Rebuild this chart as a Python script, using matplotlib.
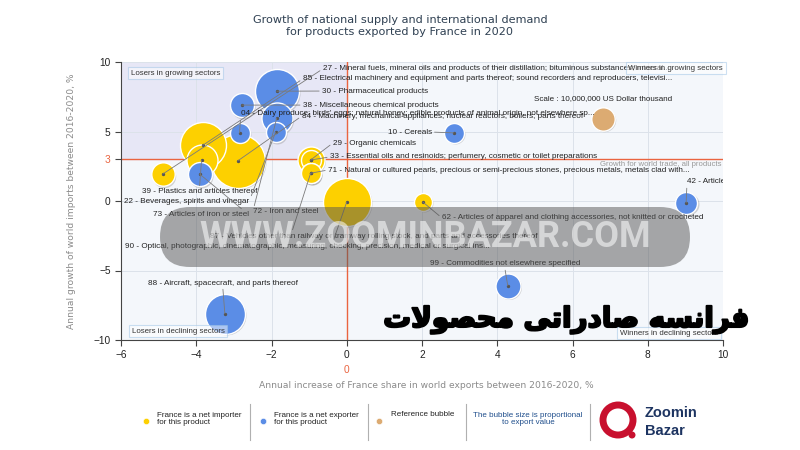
import matplotlib
matplotlib.use('Agg')
import numpy as np
import matplotlib.pyplot as plt
import matplotlib.patheffects as pe
from matplotlib import transforms
from matplotlib.patches import Rectangle, FancyBboxPatch, Circle
from matplotlib.lines import Line2D

# product data (HS code, name, share growth %, world import growth %, export value in thousand USD)
codes = ['27', '85', '30', '38', '04', '84', '10', '29', '33', '71',
         '39', '22', '73', '72', '87', '90', '62', '42', '99', '88']
names = [
    'Mineral fuels, mineral oils and products of their distillation; bituminous substances; mineral...',
    'Electrical machinery and equipment and parts thereof; sound recorders and reproducers, televisi...',
    'Pharmaceutical products',
    'Miscellaneous chemical products',
    "Dairy produce; birds' eggs; natural honey; edible products of animal origin, not elsewhere sp...",
    'Machinery, mechanical appliances, nuclear reactors, boilers; parts thereof',
    'Cereals',
    'Organic chemicals',
    'Essential oils and resinoids; perfumery, cosmetic or toilet preparations',
    'Natural or cultured pearls, precious or semi-precious stones, precious metals, metals clad with...',
    'Plastics and articles thereof',
    'Beverages, spirits and vinegar',
    'Articles of iron or steel',
    'Iron and steel',
    'Vehicles other than railway or tramway rolling stock, and parts and accessories thereof',
    'Optical, photographic, cinematographic, measuring, checking, precision, medical or surgical ins...',
    'Articles of apparel and clothing accessories, not knitted or crocheted',
    'Articles of leather...',
    'Commodities not elsewhere specified',
    'Aircraft, spacecraft, and parts thereof',
]
share_growth = [-4.89, -3.83, -1.86, -2.79, -2.85, -2.90, 2.85, -0.96, -0.96, -0.96,
                -3.86, -1.89, -3.91, -1.86, -0.96, 0.00, 2.02, 9.02, 4.28, -3.24]
import_growth = [1.94, 4.00, 7.90, 6.90, 4.90, 2.88, 4.90, 2.95, 2.95, 2.00,
                 2.95, 4.96, 1.94, 5.97, 2.00, -0.07, -0.07, -0.14, -6.10, -8.10]
export_value = [10000000, 38640000, 35360000, 10520000, 7300000, 53250000, 7300000,
                13310000, 7300000, 7300000, 17550000, 7300000, 10520000, 17550000,
                7300000, 42080000, 5920000, 8840000, 11410000, 29220000]
net_exporter = [False, False, True, True, True, False, True, False, False, False,
                False, True, True, True, False, False, False, True, True, True]

ref_value = 10000000
ref_x, ref_y = 6.81, 5.9
world_growth = 3

# label placement (data coords) and where the leader line leaves the text
label_x = [-0.64, -1.17, -0.66, -1.17, -2.82, -1.20, 2.26, -0.37, -0.45, -0.50,
           -5.45, -2.60, -2.60, -2.50, -3.64, -5.90, 2.53, 9.04, 2.20, -5.29]
label_y = [9.50, 8.78, 7.91, 6.90, 6.26, 6.10, 4.96, 4.17, 3.17, 2.23,
           0.65, -0.07, -1.00, -0.79, -2.52, -3.24, -1.22, 1.37, -4.53, -5.90]
label_ha = ['left'] * 6 + ['right'] + ['left'] * 4 + ['right', 'right'] + ['left'] * 7
label_rel = [(0, .5), (0, .5), (0, .5), (0, .5), (0, 0), (0, .5), (1, .5), (0, .5), (0, .5), (0, .5),
             (.5, 1), (1, .5), (1, .5), (0, .5), (.25, 1), (.57, 1), (0, .5), (0, 0), (.5, 0), (.5, 0)]

YELLOW = '#fdd000'
BLUE = '#5b8de6'
TAN = '#dcab72'
RED = '#ea6440'
REF_R = 11.7  # px radius of reference bubble


def bubble_s(v):
    r = REF_R * np.sqrt(v / ref_value)
    return (2 * r * 0.72) ** 2


fig = plt.figure(figsize=(8, 4.5), dpi=100)
ax = fig.add_axes([121 / 800, 1 - 340 / 450, 602 / 800, 278 / 450])
ax.set_xlim(-6, 10)
ax.set_ylim(-10, 10)
ax.set_facecolor('#f4f7fb')
ax.set_axisbelow(True)
ax.add_patch(Rectangle((-6, world_growth), 6, 10 - world_growth, color='#e7e7f6', zorder=0))
ax.grid(color='#dce2ea', lw=0.7)
ax.axvline(0, color=RED, lw=1, zorder=1.8)
ax.axhline(world_growth, color=RED, lw=1, zorder=1.8)

for s in ['top', 'right']:
    ax.spines[s].set_visible(False)
for s in ['left', 'bottom']:
    ax.spines[s].set_color('#444')
ax.set_xticks(range(-6, 11, 2))
ax.set_yticks([-10, -5, 0, 3, 5, 10])
ax.tick_params(labelsize=7.3, length=4, color='#444', labelcolor='#222')
for t in ax.get_xticklabels() + ax.get_yticklabels():
    t.set_family('Liberation Sans')
ax.get_yticklabels()[3].set_color(RED)
ax.text(0, -0.108, '0', color=RED, fontsize=7.3, family='Liberation Sans', ha='center', va='center',
        transform=transforms.blended_transform_factory(ax.transData, ax.transAxes))

shadow = transforms.offset_copy(ax.transData, fig=fig, x=1.5, y=-1.5, units='dots')
order = np.argsort(export_value)[::-1]
for i in order:
    ax.scatter(share_growth[i], import_growth[i], s=bubble_s(export_value[i]), color='#888',
               alpha=0.35, lw=0, transform=shadow, zorder=2)
    ax.scatter(share_growth[i], import_growth[i], s=bubble_s(export_value[i]),
               color=BLUE if net_exporter[i] else YELLOW, edgecolor='white', lw=1, zorder=3)
ax.scatter(ref_x, ref_y, s=bubble_s(ref_value), color='#888', alpha=0.35, lw=0, transform=shadow, zorder=2)
ax.scatter(ref_x, ref_y, s=bubble_s(ref_value), color=TAN, edgecolor='white', lw=1, zorder=3)
ax.scatter(share_growth, import_growth, s=2, color='#555', zorder=4)

for i in range(len(codes)):
    ax.annotate(codes[i] + ' - ' + names[i], xy=(share_growth[i], import_growth[i]),
                xytext=(label_x[i], label_y[i]), ha=label_ha[i], va='center',
                fontsize=5.9, family='Liberation Sans', color='#222', zorder=6, clip_on=True,
                arrowprops=dict(arrowstyle='-', color='#7a7a7a', lw=0.6, shrinkA=0, shrinkB=0,
                                relpos=label_rel[i]))

ax.text(ref_x, 7.34, 'Scale : 10,000,000 US Dollar thousand', ha='center', va='center',
        fontsize=5.8, family='Liberation Sans', color='#222', zorder=6)
ax.text(0.997, 0.645, 'Growth for world trade, all products', transform=ax.transAxes, ha='right',
        va='top', fontsize=5.6, family='Liberation Sans', color='#999', zorder=6)

box = dict(boxstyle='square,pad=0.35', fc='white', alpha=0.5, ec='#9cc3e6', lw=0.8)
quad = [(0.017, 0.96, 'left', 'Losers in growing sectors'),
        (1.0, 0.978, 'right', 'Winners in growing sectors'),
        (0.018, 0.032, 'left', 'Losers in declining sectors'),
        (0.992, 0.025, 'right', 'Winners in declining sectors')]
for qx, qy, qha, qt in quad:
    ax.text(qx, qy, qt, transform=ax.transAxes, ha=qha, va='center', fontsize=5.7,
            family='Liberation Sans', color='#333', bbox=box, zorder=7)

# overlay in pixel coordinates for titles, legend and watermark
ov = fig.add_axes([0, 0, 1, 1], zorder=5)
ov.set_xlim(0, 800)
ov.set_ylim(450, 0)
ov.axis('off')

ov.text(400, 26, 'Growth of national supply and international demand\nfor products exported by France in 2020',
        ha='center', va='center', fontsize=8.1, color='#2f4052', linespacing=1.3)
ov.text(426, 385, 'Annual increase of France share in world exports between 2016-2020, %',
        ha='center', va='center', fontsize=6.6, color='#8a8a8a')
ov.text(72, 201, 'Annual growth of world imports between 2016-2020, %', rotation=90,
        ha='center', va='center', fontsize=6.6, color='#8a8a8a')

# legend
for lx, col in [(146, YELLOW), (263, BLUE), (379, TAN)]:
    ov.add_line(Line2D([lx], [421], marker='o', ms=4.5, color=col, mec='white', mew=0.4))
for sx in [250, 368, 466, 590]:
    ov.plot([sx, sx], [404, 440], color='#b0b0b0', lw=0.8)
ov.text(157, 419, 'France is a net importer\nfor this product', ha='left', va='center',
        fontsize=5.8, family='Liberation Sans', color='#222', linespacing=1.1)
ov.text(274, 419, 'France is a net exporter\nfor this product', ha='left', va='center',
        fontsize=5.8, family='Liberation Sans', color='#222', linespacing=1.1)
ov.text(391, 415, 'Reference bubble', ha='left', va='center',
        fontsize=5.8, family='Liberation Sans', color='#222')
ov.text(528, 419, 'The bubble size is proportional\nto export value', ha='center', va='center',
        fontsize=5.8, family='Liberation Sans', color='#1f4e8c', linespacing=1.1)

# logo
ov.add_patch(Circle((618, 420), 15, fill=False, ec='#c8102e', lw=5))
ov.add_patch(Circle((632, 435), 2.8, color='#c8102e'))
ov.text(645, 413, 'Zoomin', fontsize=10.5, fontweight='bold', family='Liberation Sans',
        color='#1d3461', va='center')
ov.text(645, 431, 'Bazar', fontsize=10.5, fontweight='bold', family='Liberation Sans',
        color='#1d3461', va='center')

# watermark
ov.add_patch(FancyBboxPatch((160, 207), 530, 60, boxstyle='round,pad=0,rounding_size=30',
                            fc='#555555', ec='none', alpha=0.5))
ov.text(425, 237, 'WWW.ZOOMINBAZAR.COM', ha='center', va='center', fontsize=26,
        family='Roboto', fontweight='bold', color='white', alpha=0.55)
persian = ('\uFE95\uFEFB\uFEEE\uFEBC\uFEA4\uFEE3 '
           '\uFEF0\uFE97\uFE8D\uFEAD\uFEA9\uFE8E\uFEBB '
           '\uFEEA\uFEB4\uFEE7\uFE8D\uFEAE\uFED3')
ov.text(566, 320, persian, ha='center', va='center', fontsize=20, fontweight='bold',
        family='DejaVu Sans', color='black',
        path_effects=[pe.withStroke(linewidth=1.5, foreground='black')])

fig.savefig('out.png', dpi=100)
